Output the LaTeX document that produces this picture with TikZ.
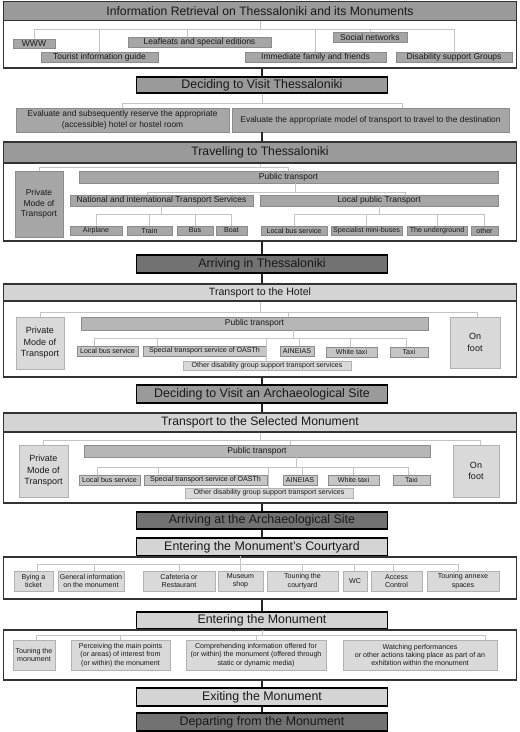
\documentclass[tikz,border=0pt]{standalone}
\usepackage{fontspec}
\setmainfont{Liberation Sans}
\usetikzlibrary{positioning}

\definecolor{headgrey}{HTML}{9A9A9A}
\definecolor{boxgrey}{HTML}{A6A6A6}
\definecolor{darkstage}{HTML}{727272}
\definecolor{palehead}{HTML}{D4D4D4}
\definecolor{midpale}{HTML}{B6B6B6}
\definecolor{pale}{HTML}{D9D9D9}
\definecolor{treeline}{HTML}{C4C4C4}

\begin{document}
\begin{tikzpicture}[x=1pt, y=-1pt,
    every node/.style={align=center, inner sep=0pt, text=black!90},
    wh/.style 2 args={minimum width=#1pt, minimum height=#2pt},
    frame/.style={rectangle, draw=black!80, line width=1.5pt, minimum width=513pt},
    bar/.style={rectangle, draw=black!80, line width=1.2pt, minimum width=513pt},
    stage/.style={rectangle, draw=black, line width=1.3pt, minimum width=251pt, font=\fontsize{12.4}{14}\selectfont},
    item/.style={rectangle, draw=black!45, line width=0.4pt, fill=boxgrey},
    soft/.style={rectangle, draw=black!30, line width=0.4pt, fill=pale},
    tree/.style={draw=treeline, line width=0.7pt},
    link/.style={draw=black!85, line width=1.1pt},
    fbig/.style={font=\fontsize{8.5}{10.5}\selectfont},
    fmid/.style={font=\fontsize{8.4}{10.8}\selectfont},
    fsmall/.style={font=\fontsize{7.1}{8.4}\selectfont},
]
\useasboundingbox (0,0) rectangle (520,732);

% information retrieval
\node[frame, wh={513}{66}] (s1) at (260,35) {};
\node[bar, fill=headgrey, minimum height=19pt, font=\fontsize{12.2}{14}\selectfont] (t1) at (260,11) {Information Retrieval on Thessaloniki and its Monuments};
\node[item, wh={42}{9}, fbig] (www) at (34,43.5) {WWW};
\node[item, wh={117}{10}, fbig] (tig) at (99.5,57) {Tourist information guide};
\node[item, wh={143}{10}, fbig] (leaf) at (199.5,42) {Leafleats and special editions};
\node[item, wh={74}{10}, fbig] (soc) at (370,37) {Social networks};
\node[item, wh={141}{10}, fbig] (fam) at (315.5,57) {Immediate family and friends};
\node[item, wh={116}{10}, fbig] (dis) at (454,57) {Disability support Groups};
\draw[tree] (t1.south) -- ++(0,8.5) coordinate (b1);
\foreach \n/\s in {www/0, tig/0, leaf/-12, soc/0, fam/0, dis/0}
  \draw[tree] ([xshift=\s pt]\n.north) |- (b1);

% deciding to visit
\node[stage, fill=headgrey, minimum height=16pt] (dec1) at (262,85) {Deciding to Visit Thessaloniki};
\draw[link] (s1.south -| dec1.north) -- (dec1.north);
\node[item, wh={213}{24}, fmid] (ev1) at (122.5,120) {Evaluate and subsequently reserve the appropriate\\(accessible) hotel or hostel room};
\node[item, wh={277}{24}, fmid] (ev2) at (370.5,120) {Evaluate the appropriate model of transport to travel to the destination};
\draw[tree] (dec1.south) -- ++(0,10) coordinate (b2);
\foreach \n/\s in {ev1/0, ev2/31.5}
  \draw[tree] ([xshift=\s pt]\n.north) |- (b2);

% travelling
\node[frame, wh={513}{99}] (s3) at (260,191.5) {};
\node[bar, fill=headgrey, minimum height=21pt, font=\fontsize{12.2}{14}\selectfont] (t3) at (260,152.5) {Travelling to Thessaloniki};
\draw[link] (ev1.south -| dec1.south) -- (s3.north -| dec1.south);
\node[item, wh={48}{66}, fbig] (priv3) at (39,204) {Private\\Mode of\\Transport};
\node[item, wh={419}{12}, fbig] (pub3) at (288.5,177) {Public transport};
\node[item, wh={183}{11}, fbig] (nat) at (161.5,200.5) {National and international Transport Services};
\node[item, wh={238}{11}, fbig] (loc) at (379,200.5) {Local public Transport};
\node[item, wh={52}{9}, fsmall] (air) at (96,230.5) {Airplane};
\node[item, wh={45}{9}, fsmall] (train) at (149.5,230.5) {Train};
\node[item, wh={36}{9}, fsmall] (bus) at (195,230.5) {Bus};
\node[item, wh={31}{9}, fsmall] (boat) at (231.5,230.5) {Boat};
\node[item, wh={66}{9}, fsmall] (lbs3) at (294,230.5) {Local bus service};
\node[item, wh={71}{9}, fsmall] (spec) at (366.5,230.5) {Specialist mini-buses};
\node[item, wh={60}{9}, fsmall] (und) at (437,230.5) {The underground};
\node[item, wh={27}{9}, fsmall] (oth) at (484.5,230.5) {other};
\draw[tree] (t3.south) -- ++(0,4) coordinate (b3);
\foreach \n in {priv3, pub3}
  \draw[tree] (\n.north) |- (b3);
\draw[tree] ([xshift=6.5pt]pub3.south) -- ++(0,9) coordinate (b3a);
\foreach \n/\s in {nat/-14.5, loc/26}
  \draw[tree] ([xshift=\s pt]\n.north) |- (b3a);
\draw[tree] (nat.south) -- ++(0,8) coordinate (b3b);
\foreach \n in {air, train, bus, boat}
  \draw[tree] (\n.north) |- (b3b);
\draw[tree] (loc.south) -- ++(0,8) coordinate (b3c);
\foreach \n in {lbs3, spec, und, oth}
  \draw[tree] (\n.north) |- (b3c);

\node[stage, fill=darkstage, minimum height=18pt] (arr1) at (262,264) {Arriving in Thessaloniki};
\draw[link] (s3.south -| arr1.north) -- (arr1.north);

% transport to the hotel
\node[frame, wh={513}{93}] (s4) at (260,330.5) {};
\node[bar, fill=palehead, minimum height=17pt, font=\fontsize{10.6}{12}\selectfont] (t4) at (260,292.5) {Transport to the Hotel};
\draw[link] (arr1.south) -- (arr1.south |- s4.north);
\node[soft, wh={48}{52}, font=\fontsize{9}{11.5}\selectfont] (priv4) at (40,343) {Private\\Mode of\\Transport};
\node[item, fill=midpale, wh={347}{13}, fbig] (pub4) at (254.5,323.5) {Public transport};
\node[soft, wh={50}{51}, font=\fontsize{9}{11.5}\selectfont] (foot4) at (475,342.5) {On\\foot};
\node[item, fill=midpale!80, wh={61}{10}, fsmall] (lbs4) at (107.5,351) {Local bus service};
\node[item, fill=midpale!80, wh={123}{10}, fsmall] (ots4) at (204.5,351) {Special transport service of OASTh};
\node[item, fill=midpale!80, wh={34}{10}, fsmall] (ain4) at (297,351) {AINEIAS};
\node[item, fill=midpale!80, wh={51}{10}, fsmall] (wt4) at (351.5,352) {White taxi};
\node[item, fill=midpale!80, wh={38}{10}, fsmall] (taxi4) at (409,352) {Taxi};
\node[soft, wh={168}{9}, fsmall] (odg4) at (267,365.5) {Other disability group support transport services};
\draw[tree] (t4.south) -- ++(0,11) coordinate (b4);
\foreach \n/\s in {priv4/0, pub4/33.5, foot4/2}
  \draw[tree] ([xshift=\s pt]\n.north) |- (b4);
\draw[tree] ([xshift=38.5pt]pub4.south) -- ++(0,8) coordinate (b4a);
\foreach \n/\s in {lbs4/-13.5, ots4/-47.5, ain4/2, wt4/-1.5, taxi4/-3, odg4/-1}
  \draw[tree] ([xshift=\s pt]\n.north) |- (b4a);

\node[stage, fill=headgrey, minimum height=18pt] (dec2) at (262,394) {Deciding to Visit an Archaeological Site};
\draw[link] (s4.south -| dec2.north) -- (dec2.north);

% transport to the monument
\node[frame, wh={513}{90}] (s5) at (260,458) {};
\node[bar, fill=palehead, minimum height=19pt, font=\fontsize{12.2}{14}\selectfont] (t5) at (260,422.5) {Transport to the Selected Monument};
\draw[link] (dec2.south) -- (dec2.south |- s5.north);
\node[soft, wh={49}{52}, font=\fontsize{9}{11.5}\selectfont] (priv5) at (43.5,471) {Private\\Mode of\\Transport};
\node[item, fill=midpale, wh={346}{12}, fbig] (pub5) at (257,451) {Public transport};
\node[soft, wh={46}{52}, font=\fontsize{9}{11.5}\selectfont] (foot5) at (476,471) {On\\foot};
\node[item, fill=midpale!80, wh={61}{10}, fsmall] (lbs5) at (109.5,480) {Local bus service};
\node[item, fill=midpale!80, wh={123}{10}, fsmall] (ots5) at (205.5,480) {Special transport service of OASTh};
\node[item, fill=midpale!80, wh={34}{10}, fsmall] (ain5) at (300,480) {AINEIAS};
\node[item, fill=midpale!80, wh={51}{10}, fsmall] (wt5) at (353.5,480) {White taxi};
\node[item, fill=midpale!80, wh={37}{10}, fsmall] (taxi5) at (411.5,480) {Taxi};
\node[soft, wh={168}{10}, fsmall] (odg5) at (269,493) {Other disability group support transport services};
\draw[tree] (t5.south) -- ++(0,8) coordinate (b5);
\foreach \n/\s in {priv5/0, pub5/33, foot5/4}
  \draw[tree] ([xshift=\s pt]\n.north) |- (b5);
\draw[tree] ([xshift=39pt]pub5.south) -- ++(0,10) coordinate (b5a);
\foreach \n/\s in {lbs5/-12.5, ots5/-47.5, ain5/2, wt5/0, taxi5/-3.5, odg5/-1}
  \draw[tree] ([xshift=\s pt]\n.north) |- (b5a);

\node[stage, fill=darkstage, minimum height=17pt] (arr2) at (262,520.5) {Arriving at the Archaeological Site};
\draw[link] (s5.south -| arr2.north) -- (arr2.north);
\node[stage, fill=palehead, minimum height=18pt] (cy) at (262,547) {Entering the Monument's Courtyard};
\draw[link] (arr2) -- (cy);

% courtyard
\node[frame, wh={513}{42}] (s6) at (260,578) {};
\foreach \n/\x/\w/\t in {tic/33.5/39/{Bying a\\ticket}, gen/91/66/{General information\\on the monument},
    caf/179/72/{Cafeteria or\\Restaurant}, shop/240.5/45/{Museum\\shop}, tcy/302.5/71/{Touning the\\courtyard},
    wc/355/24/{WC}, acc/396.5/51/{Access\\Control}, ann/463/72/{Touning annexe\\spaces}}
  \node[soft, wh={\w}{20}, fsmall] (\n) at (\x,581) {\t};
\draw[tree] (s6.north -| shop.north) -- ++(0,8) coordinate (b6);
\foreach \n/\s in {tic/3.5, gen/3, caf/0, shop/0, tcy/0, wc/-1, acc/-3.5, ann/-5}
  \draw[tree] ([xshift=\s pt]\n.north) |- (b6);

\node[stage, fill=palehead, minimum height=17pt] (entm) at (262,620.5) {Entering the Monument};
\draw[link] (s6.south -| entm.north) -- (entm.north);

% inside the monument
\node[frame, wh={513}{50}] (s7) at (260,655) {};
\node[soft, wh={42}{30}, fsmall] (tmo) at (34,655) {Touning the\\monument};
\node[soft, wh={99}{30}, fsmall] (per) at (120.5,655) {Perceiving the main points\\(or areas) of interest from\\(or within) the monument};
\node[soft, wh={140}{30}, fsmall] (com) at (256,655) {Comprehending information offered for\\(or within) the monument (offered through\\static or dynamic media)};
\node[soft, wh={154}{30}, fsmall] (wat) at (420,655) {Watching performances\\or other actions taking place as part of an\\exhibition within the monument};
\draw[tree] (entm.south) -- ++(0,6) coordinate (b7);
\foreach \n/\s in {tmo/2, per/0, com/0, wat/65}
  \draw[tree] ([xshift=\s pt]\n.north) |- (b7);

\node[stage, fill=palehead, minimum height=18pt] (ext) at (262,697) {Exiting the Monument};
\draw[link] (s7.south -| ext.north) -- (ext.north);
\node[stage, fill=darkstage, minimum height=18pt] (dep) at (262,722) {Departing from the Monument};
\draw[link] (ext) -- (dep);

\end{tikzpicture}
\end{document}
